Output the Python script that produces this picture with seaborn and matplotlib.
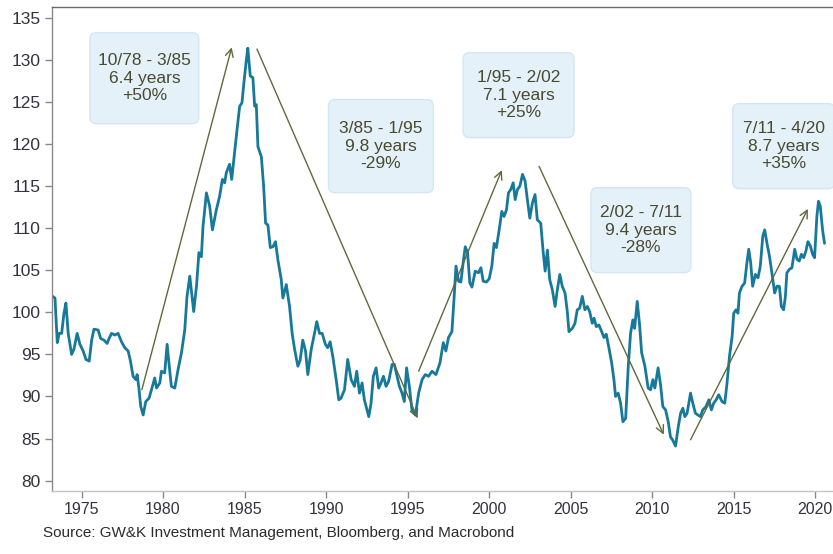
import matplotlib
matplotlib.use("Agg")
import matplotlib.pyplot as plt
from matplotlib.patches import FancyBboxPatch
import seaborn as sns

sns.set_style("white")
plt.rcParams["font.family"] = ["Liberation Sans", "DejaVu Sans"]

# series (decimal year, index level)
years = [
    1973.23, 1973.37, 1973.51, 1973.63, 1973.78, 1973.92, 1974.04, 1974.18, 1974.39, 1974.53,
    1974.73, 1974.90, 1975.10, 1975.27, 1975.47, 1975.62, 1975.76, 1976.02, 1976.17, 1976.37,
    1976.57, 1976.69, 1976.84, 1977.04, 1977.24, 1977.45, 1977.65, 1977.86, 1978.00, 1978.16,
    1978.33, 1978.41, 1978.53, 1978.63, 1978.78, 1978.94, 1979.14, 1979.29, 1979.49, 1979.60,
    1979.80, 1979.90, 1980.10, 1980.25, 1980.37, 1980.51, 1980.72, 1980.92, 1981.13, 1981.33,
    1981.47, 1981.64, 1981.88, 1982.05, 1982.20, 1982.35, 1982.45, 1982.66, 1982.86, 1983.03,
    1983.27, 1983.47, 1983.64, 1983.78, 1983.88, 1984.08, 1984.21, 1984.39, 1984.56, 1984.70,
    1984.84, 1984.96, 1985.11, 1985.20, 1985.35, 1985.51, 1985.62, 1985.72, 1985.82, 1986.03,
    1986.17, 1986.29, 1986.43, 1986.58, 1986.74, 1986.90, 1987.04, 1987.25, 1987.35, 1987.56,
    1987.76, 1987.92, 1988.07, 1988.27, 1988.41, 1988.57, 1988.74, 1988.88, 1989.09, 1989.29,
    1989.43, 1989.60, 1989.76, 1989.96, 1990.10, 1990.25, 1990.41, 1990.62, 1990.78, 1990.92,
    1991.13, 1991.33, 1991.54, 1991.74, 1991.88, 1992.05, 1992.21, 1992.35, 1992.62, 1992.76,
    1992.90, 1993.07, 1993.23, 1993.37, 1993.52, 1993.68, 1993.84, 1994.05, 1994.19, 1994.33,
    1994.50, 1994.66, 1994.80, 1994.94, 1995.11, 1995.27, 1995.48, 1995.68, 1995.89, 1996.09,
    1996.29, 1996.50, 1996.74, 1996.99, 1997.19, 1997.35, 1997.51, 1997.72, 1997.86, 1997.97,
    1998.13, 1998.27, 1998.41, 1998.54, 1998.68, 1998.82, 1998.95, 1999.15, 1999.35, 1999.50,
    1999.64, 1999.84, 2000.01, 2000.17, 2000.31, 2000.45, 2000.62, 2000.78, 2000.92, 2001.07,
    2001.19, 2001.33, 2001.48, 2001.60, 2001.74, 2001.89, 2002.05, 2002.21, 2002.35, 2002.50,
    2002.66, 2002.82, 2002.96, 2003.17, 2003.31, 2003.44, 2003.58, 2003.72, 2003.88, 2004.05,
    2004.19, 2004.34, 2004.49, 2004.66, 2004.80, 2004.90, 2005.11, 2005.27, 2005.41, 2005.56,
    2005.72, 2005.88, 2006.03, 2006.17, 2006.33, 2006.44, 2006.58, 2006.74, 2006.91, 2007.05,
    2007.19, 2007.35, 2007.52, 2007.66, 2007.76, 2007.92, 2008.07, 2008.21, 2008.38, 2008.54,
    2008.68, 2008.82, 2008.93, 2009.09, 2009.23, 2009.36, 2009.56, 2009.76, 2009.91, 2010.05,
    2010.17, 2010.37, 2010.52, 2010.66, 2010.83, 2010.99, 2011.13, 2011.27, 2011.44, 2011.60,
    2011.75, 2011.89, 2012.01, 2012.15, 2012.36, 2012.50, 2012.66, 2012.82, 2012.97, 2013.11,
    2013.31, 2013.48, 2013.64, 2013.78, 2013.93, 2014.09, 2014.29, 2014.46, 2014.60, 2014.75,
    2014.91, 2015.01, 2015.15, 2015.27, 2015.36, 2015.52, 2015.68, 2015.82, 2015.93, 2016.05,
    2016.17, 2016.34, 2016.50, 2016.64, 2016.79, 2016.91, 2017.05, 2017.20, 2017.35, 2017.52,
    2017.66, 2017.81, 2017.93, 2018.07, 2018.18, 2018.27, 2018.42, 2018.58, 2018.75, 2018.89,
    2019.03, 2019.16, 2019.30, 2019.44, 2019.56, 2019.71, 2019.85, 2019.97, 2020.11, 2020.21,
    2020.32, 2020.46, 2020.58,
]
index_level = [
    101.9, 101.7, 96.4, 97.5, 97.5, 99.9, 101.1, 97.5, 95.0, 95.6,
    97.5, 96.2, 95.4, 94.4, 94.2, 96.7, 98.0, 97.9, 96.9, 96.7,
    96.3, 96.9, 97.5, 97.3, 97.5, 96.5, 95.8, 95.4, 94.2, 92.4,
    92.0, 92.6, 90.8, 88.8, 87.8, 89.4, 89.8, 90.8, 92.2, 91.0,
    91.6, 93.0, 92.8, 96.2, 93.8, 91.2, 91.0, 93.2, 95.2, 97.9,
    101.9, 104.3, 100.1, 103.1, 107.1, 106.6, 110.2, 114.2, 112.6, 109.8,
    112.2, 113.8, 115.8, 115.4, 116.6, 117.6, 115.8, 119.1, 122.1, 124.5,
    124.9, 127.3, 130.0, 131.4, 128.1, 127.9, 124.5, 124.7, 119.7, 118.5,
    115.0, 110.6, 110.4, 107.7, 107.8, 108.4, 106.3, 103.9, 101.7, 103.3,
    100.7, 97.5, 95.6, 93.6, 94.3, 96.7, 95.4, 92.6, 95.6, 97.5,
    98.9, 97.5, 97.5, 96.2, 95.8, 96.5, 94.8, 92.0, 89.6, 89.8,
    90.8, 94.4, 92.0, 91.2, 93.0, 90.4, 91.6, 89.6, 87.6, 89.2,
    92.4, 93.4, 91.0, 91.6, 92.4, 91.2, 91.8, 93.8, 93.8, 92.6,
    91.2, 90.4, 89.4, 93.4, 91.2, 88.4, 87.8, 90.4, 92.0, 92.6,
    92.4, 93.0, 92.6, 94.0, 96.4, 95.4, 97.0, 97.7, 101.9, 105.5,
    103.7, 103.6, 105.9, 107.8, 107.1, 103.5, 103.0, 104.9, 104.7, 105.3,
    103.7, 103.6, 104.0, 105.5, 108.2, 107.7, 109.8, 112.0, 111.4, 112.2,
    114.2, 114.6, 115.4, 113.4, 114.6, 115.0, 116.4, 115.6, 113.4, 111.2,
    113.0, 114.0, 111.0, 110.6, 107.4, 104.9, 107.4, 103.9, 102.7, 100.7,
    102.7, 104.5, 103.1, 102.3, 100.1, 97.7, 98.1, 98.7, 100.3, 100.5,
    101.9, 100.3, 100.7, 100.1, 98.7, 99.3, 98.3, 98.5, 97.7, 97.0,
    97.4, 95.8, 94.0, 92.0, 90.0, 90.4, 89.2, 87.0, 87.4, 93.6,
    97.5, 99.1, 98.1, 101.3, 98.6, 95.2, 93.6, 91.0, 90.8, 92.0,
    91.0, 93.4, 91.4, 88.8, 88.4, 87.0, 85.2, 84.8, 84.1, 86.3,
    88.0, 88.6, 87.6, 88.0, 90.4, 89.2, 88.0, 87.8, 87.6, 88.4,
    88.8, 89.6, 88.4, 89.2, 89.6, 90.2, 89.4, 89.2, 91.6, 94.8,
    97.1, 99.9, 100.3, 99.9, 102.3, 103.1, 103.5, 105.9, 107.5, 105.9,
    103.1, 104.5, 104.1, 105.5, 109.0, 109.8, 108.2, 106.7, 104.7, 102.3,
    103.1, 103.1, 100.7, 100.3, 101.9, 104.7, 105.1, 105.3, 107.5, 106.3,
    106.1, 106.9, 106.5, 107.3, 108.4, 107.9, 106.9, 106.5, 111.4, 113.2,
    112.6, 109.8, 108.2,
]

# cycle annotations: label, arrow start/end (year, level), box extent
cycle_labels = [
    "10/78 - 3/85\n6.4 years\n+50%",
    "3/85 - 1/95\n9.8 years\n-29%",
    "1/95 - 2/02\n7.1 years\n+25%",
    "2/02 - 7/11\n9.4 years\n-28%",
    "7/11 - 4/20\n8.7 years\n+35%",
]
arrow_start = [(1978.70, 90.8), (1985.76, 131.3), (1995.68, 93.0), (2003.07, 117.35), (2012.36, 84.85)]
arrow_end = [(1984.21, 131.5), (1995.62, 87.4), (2000.78, 116.9), (2010.72, 85.45), (2019.56, 112.3)]
box_x = [(1975.51, 1982.19), (1990.15, 1996.58), (1998.41, 2005.21), (2006.25, 2012.38), (2014.95, 2021.2)]
box_y = [(122.43, 133.25), (114.23, 125.29), (120.77, 130.87), (104.72, 114.82), (114.70, 124.81)]

line_color = "#17799a"
arrow_color = "#5d6b3c"
text_color = "#4a4a30"
tick_color = "#333340"

fig = plt.figure(figsize=(8.33, 5.54), dpi=100)
ax = fig.add_axes([0.0621, 0.1143, 0.9379, 0.8731])

sns.lineplot(x=years, y=index_level, ax=ax, color=line_color, lw=2.0, estimator=None)

ax.set_xlim(1973.17, 2021.1)
ax.set_ylim(78.8, 136.3)
ax.set_xticks(range(1975, 2021, 5))
ax.set_yticks(range(80, 136, 5))
ax.tick_params(axis="both", direction="out", length=5, width=1, color="#888888",
               labelsize=12.5, labelcolor=tick_color, pad=3, bottom=True, left=True)
ax.tick_params(axis="x", labelsize=11.5)
ax.set_xlabel("")
ax.set_ylabel("")

ax.spines["right"].set_visible(False)
ax.spines["left"].set_color("#8a8a8a")
ax.spines["top"].set_color("#6a6a6a")
ax.spines["bottom"].set_color("#c4c4c4")
for s in ["left", "top", "bottom"]:
    ax.spines[s].set_linewidth(1)

for label, (x0, x1), (y0, y1), st, en in zip(cycle_labels, box_x, box_y, arrow_start, arrow_end):
    box = FancyBboxPatch((x0, y0), x1 - x0, y1 - y0,
                         boxstyle="round,pad=0,rounding_size=0.4", mutation_aspect=1.94,
                         facecolor="#e4f1f9", edgecolor="#d3e7f3", lw=1, zorder=3,
                         clip_on=False)
    ax.add_patch(box)
    ax.text((x0 + x1) / 2, (y0 + y1) / 2, label, ha="center", va="center",
            fontsize=12.5, color=text_color, linespacing=1.2, zorder=4)
    ax.annotate("", xy=en, xytext=st,
                arrowprops=dict(arrowstyle="->", color=arrow_color, lw=1,
                                shrinkA=0, shrinkB=0, mutation_scale=14),
                zorder=5)

fig.text(0.052, 0.038, "Source: GW&K Investment Management, Bloomberg, and Macrobond",
         fontsize=11, color="#2b2b2b", va="center", ha="left")

fig.savefig("out.png", dpi=100)
